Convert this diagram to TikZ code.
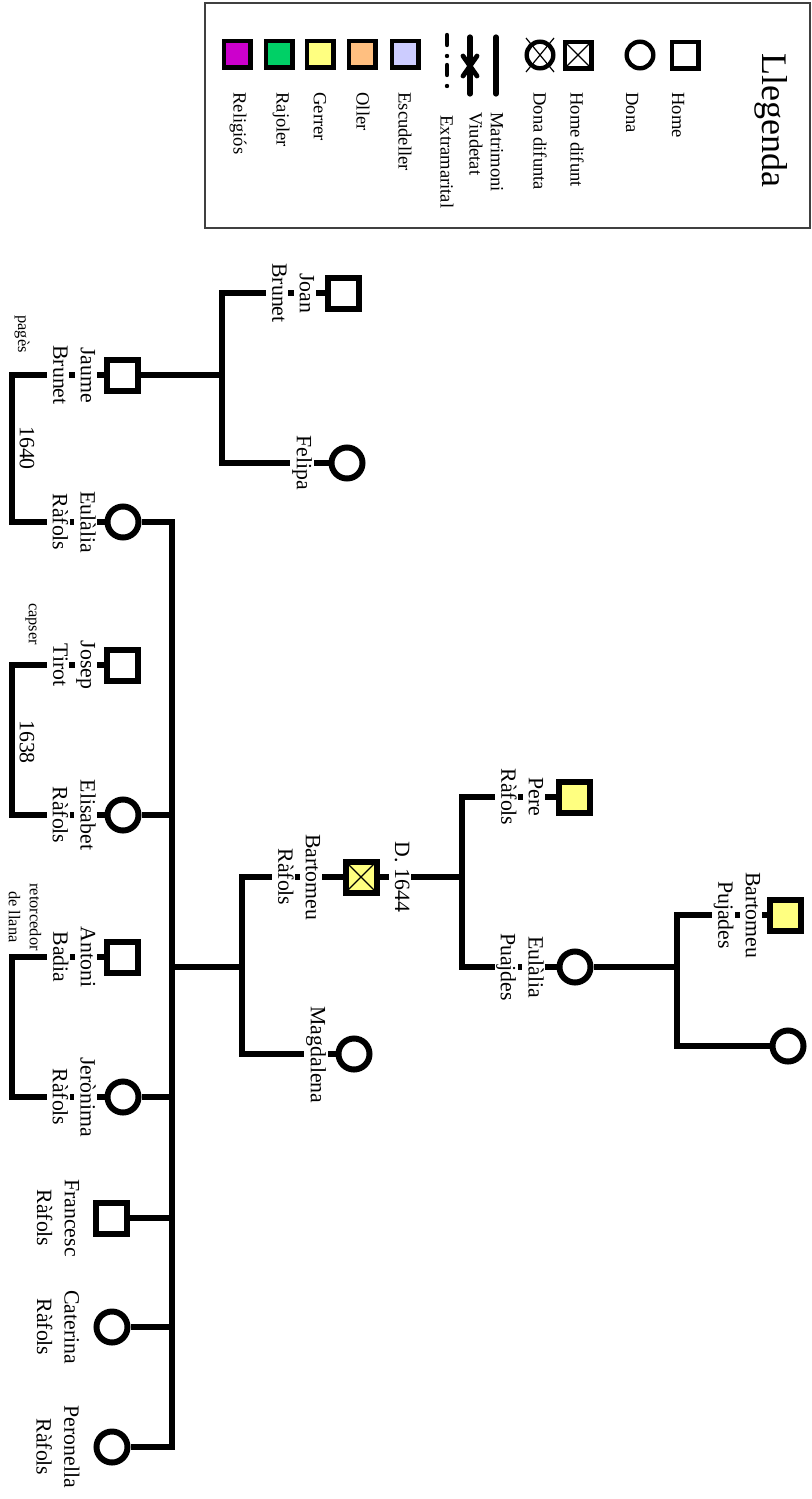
\documentclass[tikz,border=0pt]{standalone}
\usepackage{fontspec}
\setmainfont{Liberation Serif}
\usetikzlibrary{positioning}
\definecolor{gerrer}{RGB}{255,255,128}
\definecolor{oller}{RGB}{255,191,128}
\definecolor{escudeller}{RGB}{204,204,255}
\definecolor{rajoler}{RGB}{0,208,102}
\definecolor{religios}{RGB}{204,0,204}
\newcommand{\nomfont}{\fontsize{10.9}{13.8}\selectfont}
\newcommand{\llfont}{\fontsize{9.3}{11}\selectfont}
\newcommand{\ofifont}{\fontsize{8.2}{10.5}\selectfont}
\newcommand{\wb}[1]{\colorbox{white}{\vphantom{Ag}#1}}
\setlength{\fboxsep}{0.8pt}

\tikzset{
  sym/.style={draw, line width=3pt, inner sep=0pt},
  home/.style={sym, rectangle, minimum size=15.5pt},
  dona/.style={sym, circle, minimum size=15.5pt},
  llsym/.style={line width=2.2pt, minimum size=13.3pt},
  difunt/.style={path picture={\draw[line width=0.6pt]
      (path picture bounding box.north west) -- (path picture bounding box.south east)
      (path picture bounding box.north east) -- (path picture bounding box.south west);}},
  lnk/.style={line width=2.6pt},
  nom/.style={rotate=-90, font=\nomfont, align=center, inner sep=0pt},
  ofici/.style={rotate=-90, font=\ofifont, align=center, inner sep=0pt},
  llg/.style={rotate=-90, font=\llfont, anchor=west, inner sep=0pt},
}

\begin{document}
\begin{tikzpicture}[x=0.5pt, y=-0.5pt]
    \useasboundingbox (0,0) rectangle (812,1499);

    % llegenda
    \draw[line width=0.9pt, black!75] (205,3) rectangle (810,228);
    \node[rotate=-90, font=\fontsize{18}{20}\selectfont, inner sep=0pt] (titol) at (771,120) {Llegenda};
    \node[home, llsym] (lhome) at (685,55) {};
    \node[dona, llsym] (ldona) at (640,55) {};
    \node[home, difunt, llsym] (lhdif) at (578,55) {};
    \node[dona, llsym] (lddif) at (540,55) {};
    \draw[line width=0.6pt] (526,38) -- (554,72) (554,38) -- (526,72);
    \draw[lnk, line cap=round] (496,37) -- (496,94);
    \draw[lnk, line cap=round] (470,37) -- (470,94);
    \draw[line width=2.4pt, line cap=round] (463,56) -- (477,76) (477,56) -- (463,76);
    \draw[line width=2.2pt, line cap=round, dash pattern=on 5pt off 5.5pt on 0pt off 4.5pt] (447,35) -- (447,93);
    \foreach \c/\x in {escudeller/405, oller/362, gerrer/320, rajoler/279, religios/237}
        \node[home, llsym, fill=\c] (l\c) at (\x,54) {};
    \foreach \t/\x/\y in {Home/678/92, Dona/632/92, Home difunt/577/92, Dona difunta/540/92,
            Matrimoni/497/112, Viudetat/476/112, Extramarital/447/115, Escudeller/405/92,
            Oller/363/92, Gerrer/320/92, Rajoler/281/92, Religiós/238/92}
        \node[llg] (t\x) at (\x,\y) {\t};

    % persones
    \node[home, fill=gerrer] (bpuj) at (785,915) {};
    \node[dona] (dpuj) at (788,1046) {};
    \node[home, fill=gerrer] (pere) at (574,797) {};
    \node[dona] (eulp) at (575,967) {};
    \node[home, difunt, fill=gerrer] (bart) at (361,877) {};
    \node[dona] (magd) at (354,1054) {};
    \node[home] (joan) at (343,293) {};
    \node[dona] (feli) at (347,463) {};
    \node[home] (jaum) at (122,375) {};
    \node[dona] (eulr) at (123,522) {};
    \node[home] (jose) at (122,665) {};
    \node[dona] (elis) at (123,815) {};
    \node[home] (anto) at (122,957) {};
    \node[dona] (jero) at (123,1097) {};
    \node[home] (fran) at (111,1218) {};
    \node[dona] (cate) at (112,1327) {};
    \node[dona] (pero) at (112,1447) {};

    % matrimonis i fills
    \coordinate (mpuj) at (677,967);
    \coordinate (mper) at (462,877);
    \coordinate (mbar) at (242,967);
    \coordinate (mjoa) at (222,375);
    \coordinate (germ) at (172,1447);
    \coordinate (mjau) at (12,448);
    \coordinate (mjos) at (12,740);
    \coordinate (mant) at (12,1027);

    \draw[lnk] (bpuj) -| (mpuj) |- (dpuj);
    \draw[lnk] (mpuj) -- (eulp);
    \draw[lnk] (pere) -| (mper) |- (eulp);
    \draw[lnk] (mper) -- (bart);
    \draw[lnk] (bart) -| (mbar) |- (magd);
    \draw[lnk] (mbar) -- (mbar -| germ);
    \draw[lnk] (eulr) -| (germ) -- (pero);
    \foreach \n in {elis, jero, fran, cate}
        \draw[lnk] (germ |- \n) -- (\n);
    \draw[lnk] (joan) -| (mjoa) |- (feli);
    \draw[lnk] (mjoa) -- (jaum);
    \draw[lnk] (jaum) -| (mjau) |- (eulr);
    \draw[lnk] (jose) -| (mjos) |- (elis);
    \draw[lnk] (anto) -| (mant) |- (jero);

    % noms
    \node[nom] (nbpuj) at (737,915) {\wb{Bartomeu}\\\wb{Pujades}};
    \node[nom] (npere) at (520,797) {\wb{Pere}\\\wb{Ràfols}};
    \node[nom] (neulp) at (520,967) {\wb{Eulàlia}\\\wb{Puajdes}};
    \node[nom] (nbart) at (297,877) {\wb{Bartomeu}\\\wb{Ràfols}};
    \node[nom] (dbart) at (400,877) {\wb{D. 1644}};
    \node[nom] (nmagd) at (316,1055) {\wb{Magdalena}};
    \node[nom] (njoan) at (291,293) {\wb{Joan}\\\wb{Brunet}};
    \node[nom] (nfeli) at (302,463) {\wb{Felipa}};
    \node[nom] (njaum) at (72,375) {\wb{Jaume}\\\wb{Brunet}};
    \node[nom] (neulr) at (72,522) {\wb{Eulàlia}\\\wb{Ràfols}};
    \node[nom] (njose) at (72,665) {\wb{Josep}\\\wb{Tirot}};
    \node[nom] (nelis) at (72,815) {\wb{Elisabet}\\\wb{Ràfols}};
    \node[nom] (nanto) at (72,957) {\wb{Antoni}\\\wb{Badia}};
    \node[nom] (njero) at (72,1097) {\wb{Jerònima}\\\wb{Ràfols}};
    \node[nom] (nfran) at (58,1218) {Francesc\\Ràfols};
    \node[nom] (ncate) at (58,1327) {Caterina\\Ràfols};
    \node[nom] (npero) at (58,1447) {Peronella\\Ràfols};

    % oficis i dates
    \node[ofici] (opag) at (22,334) {pagès};
    \node[ofici] (ocap) at (31,624) {capser};
    \node[ofici] (oret) at (25,917) {retorcedor\\de llana};
    \node[nom] (d1640) at (27,448) {1640};
    \node[nom] (d1638) at (27,742) {1638};
\end{tikzpicture}
\end{document}
